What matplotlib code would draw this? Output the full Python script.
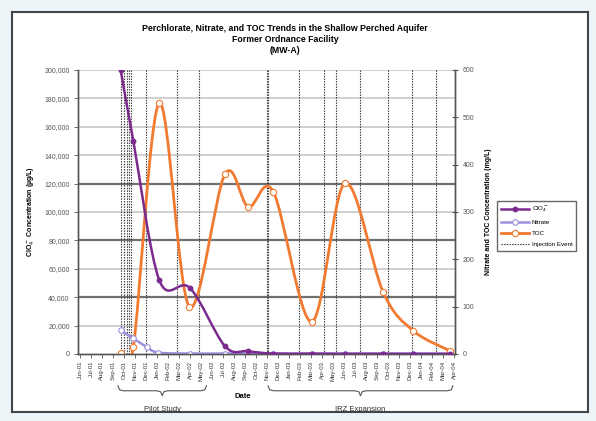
import numpy as np
import matplotlib
matplotlib.use("Agg")
import matplotlib.pyplot as plt
from matplotlib.path import Path
from matplotlib.patches import PathPatch, Rectangle
from matplotlib.lines import Line2D
import matplotlib.transforms as mtransforms

plt.rcParams['font.family'] = ['Liberation Sans', 'DejaVu Sans']

# month labels, Jun-01 .. Apr-04 (x = months since Jun-01)
month_labels = (["Jun-01", "Jul-01", "Aug-01", "Sep-01", "Oct-01", "Nov-01", "Dec-01"]
                + [m + "-02" for m in ["Jan", "Feb", "Mar", "Apr", "May", "Jun",
                                       "Jul", "Aug", "Sep", "Oct", "Nov", "Dec"]]
                + [m + "-03" for m in ["Jan", "Feb", "Mar", "Apr", "May", "Jun",
                                       "Jul", "Aug", "Sep", "Oct", "Nov", "Dec"]]
                + ["Jan-04", "Feb-04", "Mar-04", "Apr-04"])

# perchlorate (ug/L), left axis
clo4_x = [3.70, 4.85, 7.21, 10.0, 13.18, 15.27, 17.55, 21.06, 24.1, 27.5, 30.3, 33.6]
clo4_y = [200000, 150000, 52000, 46500, 5500, 2000, 300, 200, 100, 100, 50, 50]

# nitrate (mg/L), right axis
no3_x = [3.70, 4.85, 6.06, 7.1, 10.0, 13.18, 15.27, 17.55, 21.06, 24.1, 27.5, 30.3, 33.6]
no3_y = [50, 33, 15, 3, 1, 1, 1, 1, 1, 1, 1, 1, 1]

# TOC (mg/L), right axis
toc_x = [3.70, 4.85, 7.21, 9.94, 13.18, 15.3, 17.57, 21.06, 24.1, 27.57, 30.3, 33.6]
toc_y = [3, 15, 530, 100, 380, 311, 343, 68, 361, 130, 49, 7]

# injection events (months since Jun-01)
injections = [3.77, 4.0, 4.23, 4.45, 4.68, 6.0, 8.82, 10.82, 17.0, 17.1, 19.9,
              22.2, 23.3, 25.45, 28.0, 30.2, 32.4]

# project phases
phases = [("Pilot Study", 3.45, 11.5), ("IRZ Expansion", 17.1, 33.9)]

C_CLO4 = '#7b2a8e'
C_NO3 = '#9d8fdc'
C_TOC = '#f27a30'


def smooth_path(xs, ys):
    # Excel-style smoothed line: cubic Bezier through each point
    pts = np.column_stack([xs, ys]).astype(float)
    verts = [pts[0]]
    codes = [Path.MOVETO]
    n = len(pts)
    for i in range(n - 1):
        p0 = pts[i - 1] if i > 0 else pts[i]
        p1, p2 = pts[i], pts[i + 1]
        p3 = pts[i + 2] if i + 2 < n else p2
        verts += [p1 + (p2 - p0) / 6, p2 - (p3 - p1) / 6, p2]
        codes += [Path.CURVE4] * 3
    return Path(verts, codes)


def draw_brace(ax, x0, x1, y_top, depth):
    trans = mtransforms.blended_transform_factory(ax.transData, ax.transAxes)
    xm = (x0 + x1) / 2
    w = 0.5
    xs = [x0, x0 + w * 0.3, x0 + w, xm - w, xm - w * 0.3, xm,
          xm + w * 0.3, xm + w, x1 - w, x1 - w * 0.3, x1]
    ys = [y_top, y_top - depth * 0.4, y_top - depth * 0.5, y_top - depth * 0.5,
          y_top - depth * 0.6, y_top - depth, y_top - depth * 0.6,
          y_top - depth * 0.5, y_top - depth * 0.5, y_top - depth * 0.4, y_top]
    ax.plot(xs, ys, color='#555555', lw=0.8, transform=trans, clip_on=False)


fig = plt.figure(figsize=(5.96, 4.21), dpi=100, facecolor='#edf5f8')
fig.patches.append(Rectangle((12 / 596, 9 / 421), 576 / 596, 400 / 421,
                             transform=fig.transFigure, facecolor='white',
                             edgecolor='#444444', lw=1.5, zorder=-10))

ax = fig.add_axes([78 / 596, 67 / 421, 377 / 596, 284 / 421])
ax2 = ax.twinx()
ax.set_zorder(ax2.get_zorder() + 1)
ax.patch.set_visible(False)
ax2.patch.set_visible(False)

# gridlines (drawn on the right axis so they sit under every series)
for v in range(20000, 200001, 20000):
    dark = v in (40000, 80000, 120000)
    ax2.axhline(v * 0.003, color='#707070' if dark else '#c8c8c8', lw=1.6 if dark else 1.2, zorder=0)

for xi in injections:
    ax2.axvline(xi, color='#333333', lw=0.8, ls=(0, (1.2, 1.2)), zorder=1)

ax2.add_patch(PathPatch(smooth_path(no3_x, no3_y), fill=False, edgecolor=C_NO3, lw=1.8, zorder=3))
ax2.plot(no3_x, no3_y, 'o', mfc='white', mec=C_NO3, ms=4, mew=0.8, zorder=4)
ax2.add_patch(PathPatch(smooth_path(toc_x, toc_y), fill=False, edgecolor=C_TOC, lw=2.0, zorder=3))
ax2.plot(toc_x, toc_y, 'o', mfc='white', mec=C_TOC, ms=4.5, mew=0.8, zorder=4)

ax.add_patch(PathPatch(smooth_path(clo4_x, clo4_y), fill=False, edgecolor=C_CLO4, lw=1.8, zorder=3))
ax.plot(clo4_x, clo4_y, 'o', color=C_CLO4, ms=3.2, zorder=4)

ax.set_xlim(-0.18, 34.09)
ax.set_ylim(0, 200000)
ax2.set_ylim(0, 600)
ax.set_xticks(range(len(month_labels)))
ax.set_xticklabels(month_labels, rotation=90, fontsize=4.3, color='#333333')
ax.set_yticks(range(0, 200001, 20000))
ax.set_yticklabels([f"{v:,}" for v in range(0, 200001, 20000)], fontsize=5, color='#555555')
ax2.set_yticks(range(0, 601, 100))
ax2.tick_params(axis='y', labelsize=5, labelcolor='#555555', direction='inout', length=4,
                color='#555555')
ax.tick_params(axis='both', length=3, width=0.6, color='#555555', pad=2)
ax.tick_params(axis='y', pad=3)

for a in (ax, ax2):
    for s in a.spines.values():
        s.set_color('#555555')
        s.set_linewidth(1.0)
    a.spines['top'].set_visible(False)

ax.set_ylabel("ClO$_4^-$ Concentration (\u00b5g/L)", fontsize=5, fontweight='bold', labelpad=6)
ax2.set_ylabel("Nitrate and TOC Concentration (mg/L)", fontsize=5, fontweight='bold', labelpad=8)

ax.text(14.8, -0.148, "Date", transform=mtransforms.blended_transform_factory(ax.transData, ax.transAxes),
        ha='center', va='center', fontsize=5.5, fontweight='bold')

for name, x0, x1 in phases:
    draw_brace(ax, x0, x1, -0.112, 0.035)
    ax.text((x0 + x1) / 2, -0.194, name,
            transform=mtransforms.blended_transform_factory(ax.transData, ax.transAxes),
            ha='center', va='center', fontsize=5.5, color='#333333')

fig.text(0.478, 0.933, "Perchlorate, Nitrate, and TOC Trends in the Shallow Perched Aquifer",
         ha='center', va='center', fontsize=6.3, fontweight='bold')
fig.text(0.478, 0.905, "Former Ordnance Facility", ha='center', va='center', fontsize=6.3, fontweight='bold')
fig.text(0.478, 0.879, "(MW-A)", ha='center', va='center', fontsize=6.3, fontweight='bold')

handles = [
    Line2D([], [], color=C_CLO4, lw=1.8, marker='o', ms=3.2),
    Line2D([], [], color=C_NO3, lw=1.8, marker='o', mfc='white', ms=4, mew=0.8),
    Line2D([], [], color=C_TOC, lw=2.0, marker='o', mfc='white', ms=4.5, mew=0.8),
    Line2D([], [], color='#333333', lw=0.8, ls=(0, (1.2, 1.2))),
]
labels = ["ClO$_4^-$", "Nitrate", "TOC", "Injection Event"]
fig.legend(handles, labels, loc='upper left', bbox_to_anchor=(0.829, 0.530),
           fontsize=4.5, frameon=True, fancybox=False, edgecolor='#444444',
           handlelength=4.5, borderpad=0.6, labelspacing=0.9, handletextpad=0.4)

fig.savefig("out.png", dpi=100, facecolor=fig.get_facecolor())
